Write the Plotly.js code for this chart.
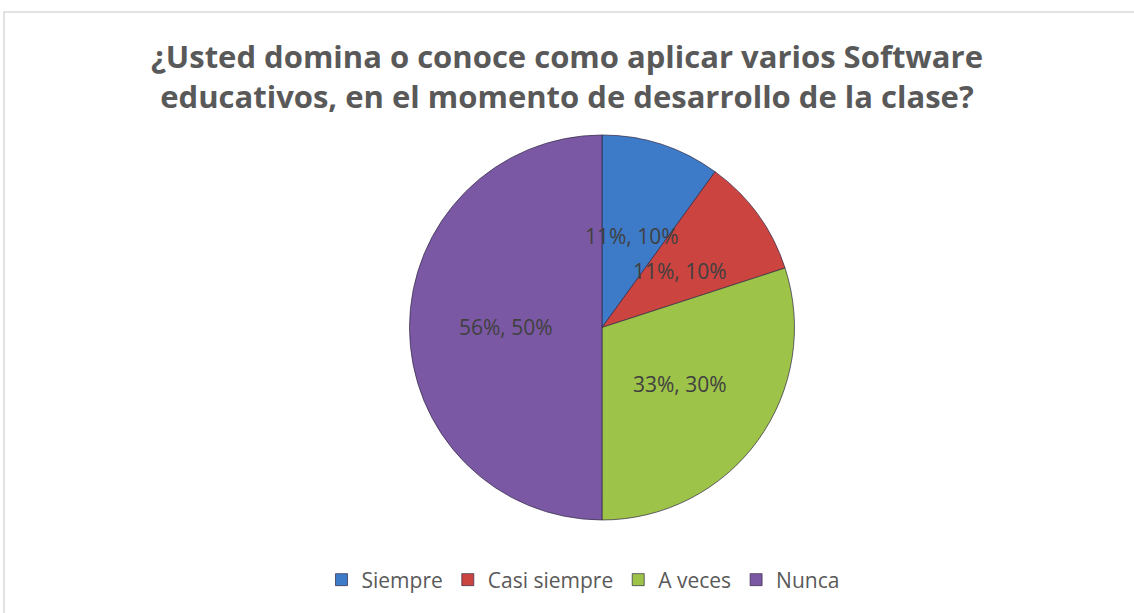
<!DOCTYPE html>
<html>
<head>
<meta charset="utf-8">
<script src="https://cdn.plot.ly/plotly-3.0.1.min.js"></script>
<style>
html,body{margin:0;padding:0;background:#fff;}
#chart{width:1134px;height:613px;}
</style>
</head>
<body>
<div id="chart"></div>
<script>
var categories = ["Siempre", "Casi siempre", "A veces", "Nunca"];
var sliceValues = [10, 10, 30, 50];
var shownValues = [11, 11, 33, 56];
var colors = ["#3D7BC8", "#CB4440", "#9DC349", "#7B58A3"];

var W = 1134, H = 613;
var dom = {x: [0.3611, 0.7006], y: [0.1517, 0.7798]};
var cx = (dom.x[0] + dom.x[1]) / 2 * W;
var cy = (1 - (dom.y[0] + dom.y[1]) / 2) * H;
var r = Math.min((dom.x[1] - dom.x[0]) * W, (dom.y[1] - dom.y[0]) * H) / 2;

var total = sliceValues.reduce(function(a, b){ return a + b; }, 0);
var annotations = [];
var cum = 0;
sliceValues.forEach(function(v, i){
  var mid = (cum + v / 2) / total * 2 * Math.PI;
  cum += v;
  var px = cx + 0.5 * r * Math.sin(mid);
  var py = cy - 0.5 * r * Math.cos(mid);
  var pct = Math.round(v / total * 100);
  annotations.push({
    xref: "paper", yref: "paper",
    x: px / W, y: 1 - py / H,
    xanchor: "center", yanchor: "middle",
    text: shownValues[i] + "%, " + pct + "%",
    showarrow: false,
    font: {family: "Open Sans", size: 21, color: "#404040"}
  });
});

var data = [{
  type: "pie",
  labels: categories,
  values: sliceValues,
  sort: false,
  direction: "clockwise",
  rotation: 0,
  textinfo: "none",
  hoverinfo: "label+percent",
  domain: dom,
  marker: {colors: colors, line: {color: "rgba(50,40,70,0.7)", width: 1}}
}];

var layout = {
  width: W, height: H,
  margin: {l: 0, r: 0, t: 0, b: 0},
  paper_bgcolor: "#ffffff",
  title: {
    text: "¿Usted domina o conoce como aplicar varios Software<br>educativos, en el momento de desarrollo de la clase?",
    font: {family: "Open Sans", size: 31, color: "#595959", weight: "bold"},
    x: 0.5, xanchor: "center",
    y: 1 - 68 / H, yanchor: "middle"
  },
  showlegend: true,
  legend: {
    orientation: "h",
    x: 583 / W, xanchor: "center",
    y: 1 - 580 / H, yanchor: "middle",
    font: {family: "Open Sans", size: 21, color: "#595959"},
    itemwidth: 30,
    traceorder: "normal"
  },
  annotations: annotations,
  shapes: [{
    type: "rect", xref: "paper", yref: "paper",
    x0: 4 / W, x1: 1.01, y0: -0.01, y1: 1 - 12 / H,
    line: {color: "#D9D9D9", width: 1.5},
    fillcolor: "rgba(0,0,0,0)"
  }]
};

Plotly.newPlot("chart", data, layout, {displayModeBar: false});
</script>
</body>
</html>
